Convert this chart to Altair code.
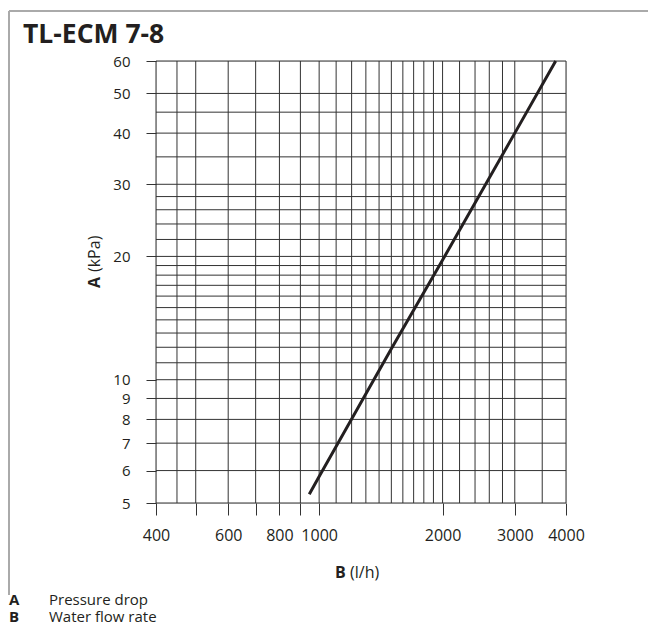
import altair as alt
import pandas as pd

# ---- data ----
x_grid = [400, 450, 500, 600, 700, 800, 900, 1000, 1100, 1200, 1300, 1400, 1500,
          1600, 1700, 1800, 1900, 2000, 2200, 2400, 2600, 2800, 3000, 3500, 4000]
y_grid = [5, 6, 7, 8, 9, 10, 11, 12, 13, 14, 15, 16, 17, 18, 19, 20,
          22, 24, 26, 28, 30, 35, 40, 45, 50, 60]
x_ticks = [400, 500, 600, 700, 800, 900, 1000, 2000, 3000, 4000]
x_labels = [400, 600, 800, 1000, 2000, 3000, 4000]
y_labels = [5, 6, 7, 8, 9, 10, 20, 30, 40, 50, 60]
flow = [946, 1000, 1500, 2000, 3000, 3775]
pressure = [5.25, 5.8, 11.9, 19.6, 40.0, 60.0]

FONT = "Open Sans"
INK = "#231f20"
W, H = 410, 442

xs = alt.Scale(type="log", domain=[400, 4000], nice=False, zero=False)
ys = alt.Scale(type="log", domain=[5, 60], nice=False, zero=False)

label_list = ",".join(str(v) for v in x_labels)
x_axis = alt.Axis(
    values=x_ticks, format="d", title=None, grid=False, domain=False,
    tickSize=12, tickColor="#333333", tickWidth=1,
    labelExpr=f"indexof([{label_list}], datum.value) >= 0 ? datum.label : ''",
    labelFont=FONT, labelFontSize=16, labelColor=INK, labelPadding=12,
    labelOverlap=False, labelFlush=False, labelBound=False)
y_axis = alt.Axis(
    values=y_labels, format="d", title=None, grid=False, domain=False,
    tickSize=10, tickColor="#333333", tickWidth=1,
    labelFont=FONT, labelFontSize=15, labelColor=INK, labelPadding=16,
    labelOverlap=False, labelFlush=False, labelBound=False)

vgrid = alt.Chart(pd.DataFrame({"x": x_grid})).mark_rule(
    color="#333333", strokeWidth=1
).encode(x=alt.X("x:Q", scale=xs, axis=x_axis))

hgrid = alt.Chart(pd.DataFrame({"y": y_grid})).mark_rule(
    color="#333333", strokeWidth=1
).encode(y=alt.Y("y:Q", scale=ys, axis=y_axis))

curve = alt.Chart(pd.DataFrame({"flow": flow, "pressure": pressure})).mark_line(
    color=INK, strokeWidth=3
).encode(
    x=alt.X("flow:Q", scale=xs, axis=x_axis),
    y=alt.Y("pressure:Q", scale=ys, axis=y_axis),
    order="flow:Q",
)

one = pd.DataFrame({"a": [0]})


def txt(s, x, y, size=16, weight="normal", angle=0, align="left", baseline="alphabetic"):
    return alt.Chart(one).mark_text(
        text=s, font=FONT, fontSize=size, fontWeight=weight, angle=angle,
        align=align, baseline=baseline, color=INK
    ).encode(x=alt.value(x), y=alt.value(y))


title = txt("TL-ECM 7-8", -133, -18, size=26.5, weight="bold")
ytitle_a = txt("A", -61, 227, size=16, weight="bold", angle=270, baseline="middle")
ytitle_b = txt("(kPa)", -61, 211, size=16, angle=270, baseline="middle")
xtitle_a = txt("B", 179, 517, size=16, weight="bold")
xtitle_b = txt("(l/h)", 194, 517, size=16)
leg1a = txt("A", -147, 544, size=15, weight="bold")
leg1b = txt("Pressure drop", -107, 544, size=15)
leg2a = txt("B", -147, 561, size=15, weight="bold")
leg2b = txt("Water flow rate", -107, 561, size=15)

frame_top = alt.Chart(one).mark_rule(color="#aaaaaa", strokeWidth=2).encode(
    x=alt.value(-147), x2=alt.value(492), y=alt.value(-50))
frame_left = alt.Chart(one).mark_rule(color="#aaaaaa", strokeWidth=2).encode(
    x=alt.value(-147), y=alt.value(-50), y2=alt.value(534))

chart = alt.layer(
    frame_top, frame_left, vgrid, hgrid, curve, title,
    ytitle_a, ytitle_b, xtitle_a, xtitle_b, leg1a, leg1b, leg2a, leg2b
).properties(
    width=W, height=H,
    autosize=alt.AutoSizeParams(type="none"),
    padding={"left": 148, "top": 53, "right": 82, "bottom": 124},
).configure_view(stroke=None).configure(background="white")

chart.save("out.html", embed_options={"renderer": "svg", "actions": False})
